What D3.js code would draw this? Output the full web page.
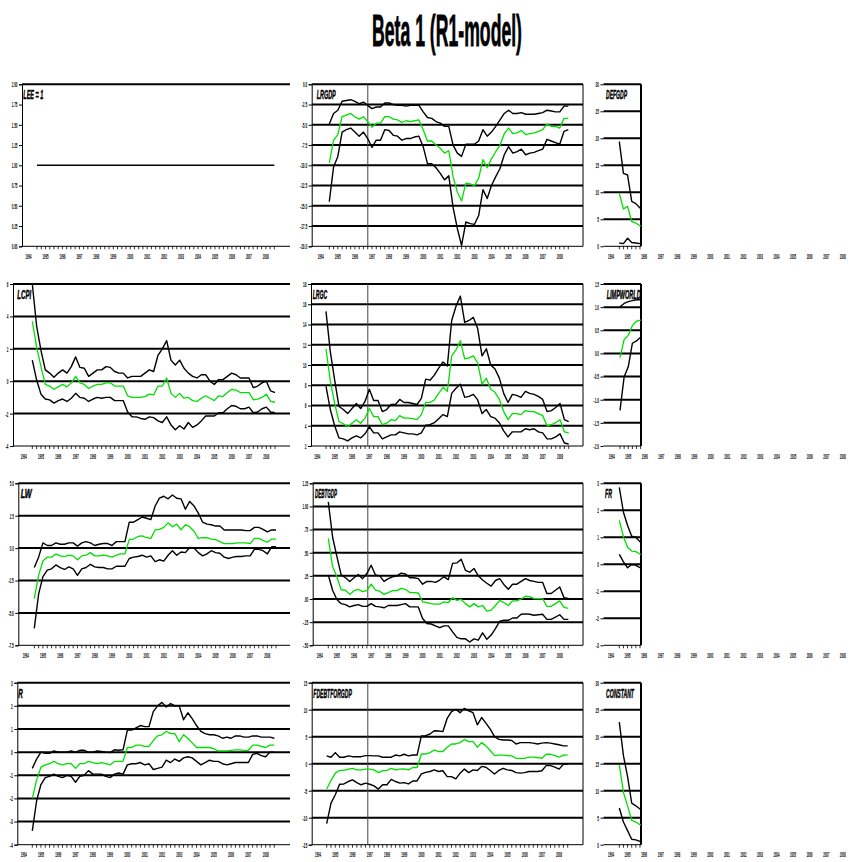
<!DOCTYPE html>
<html>
<head>
<meta charset="utf-8">
<script src="https://cdn.jsdelivr.net/npm/d3@7"></script>
<style>
  body { margin: 0; background: #fff; }
  text { font-family: "Liberation Sans Narrow", "Arial Narrow", "Liberation Sans", sans-serif; }
</style>
</head>
<body>
<div id="chart"></div>
<script>
// quarterly observations
const quarters = ["1994Q3","1994Q4",
  "1995Q1","1995Q2","1995Q3","1995Q4","1996Q1","1996Q2","1996Q3","1996Q4",
  "1997Q1","1997Q2","1997Q3","1997Q4","1998Q1","1998Q2","1998Q3","1998Q4",
  "1999Q1","1999Q2","1999Q3","1999Q4","2000Q1","2000Q2","2000Q3","2000Q4",
  "2001Q1","2001Q2","2001Q3","2001Q4","2002Q1","2002Q2","2002Q3","2002Q4",
  "2003Q1","2003Q2","2003Q3","2003Q4","2004Q1","2004Q2","2004Q3","2004Q4",
  "2005Q1","2005Q2","2005Q3","2005Q4","2006Q1","2006Q2","2006Q3","2006Q4",
  "2007Q1","2007Q2","2007Q3","2007Q4","2008Q1","2008Q2","2008Q3"];
const years = ["1994","1995","1996","1997","1998","1999","2000","2001","2002","2003","2004","2005","2006","2007","2008"];

// tick labels
const leeTicks = ["2.00","1.75","1.50","1.25","1.00","0.75","0.50","0.25","0.00"];
const lrgdpTicks = ["0.0","-2.5","-5.0","-7.5","-10.0","-12.5","-15.0","-17.5","-20.0"];
const defgdpTicks = ["30","25","20","15","10","5","0"];
const lcpiTicks = ["6","4","2","0","-2","-4"];
const lrgcTicks = ["18","16","14","12","10","8","6","4","2"];
const limpTicks = ["1.5","1.0","0.5","0.0","-0.5","-1.0","-1.5","-2.0"];
const lwTicks = ["5.0","2.5","0.0","-2.5","-5.0","-7.5"];
const debtTicks = ["1.25","1.00",".75",".50",".25",".00","-.25","-.50"];
const frTicks = ["3","2","1","0","-1","-2","-3"];
const rTicks = ["3","2","1","0","-1","-2","-3","-4"];
const fdebtTicks = ["15","10","5","0","-5","-10","-15"];
const constTicks = ["30","25","20","15","10","5","0"];

// series: upper band, estimate, lower band
const lee = [1,1,1,1,1,1,1,1,1,1,1,1,1,1,1,1,1,1,1,1,1,1,1,1,1,1,1,1,1,1,1,1,1,1,1,1,1,1,1,1,1,1,1,1,1,1,1,1,1,1,1,1,1,1,1,1,1];

const lrgdpHi = [-4.9,-3.6,-3.2,-2.1,-2.0,-1.9,-2.1,-2.4,-2.2,-2.6,-3.0,-2.8,-2.8,-2.3,-2.3,-2.5,-2.6,-2.6,-2.7,-2.6,-2.6,-2.6,-3.4,-4.1,-4.2,-4.6,-4.8,-5.2,-5.2,-7.5,-8.5,-8.9,-7.4,-7.4,-7.4,-7.0,-5.6,-6.4,-5.9,-5.2,-4.4,-3.6,-3.2,-3.6,-3.6,-3.5,-3.7,-3.7,-3.7,-3.6,-3.5,-3.2,-3.3,-3.4,-3.4,-2.7,-2.7];
const lrgdpMid = [-9.7,-6.9,-6.2,-4.0,-3.8,-3.6,-4.0,-4.3,-4.0,-4.6,-5.3,-4.8,-4.8,-4.0,-4.0,-4.3,-4.4,-4.7,-4.5,-4.6,-4.5,-4.4,-5.6,-7.0,-7.0,-7.5,-7.9,-8.5,-8.2,-11.4,-13.3,-14.4,-12.2,-12.3,-12.5,-11.6,-9.3,-10.3,-9.2,-8.3,-7.5,-6.1,-5.4,-6.1,-6.0,-5.7,-6.2,-6.1,-6.0,-5.8,-5.6,-4.9,-5.2,-5.2,-5.4,-4.2,-4.2];
const lrgdpLo = [-14.5,-10.2,-8.9,-5.9,-5.6,-5.4,-5.9,-6.4,-5.9,-6.7,-7.8,-6.9,-6.9,-5.6,-5.7,-6.3,-6.4,-6.9,-6.7,-6.7,-6.5,-6.4,-7.7,-9.8,-9.8,-10.3,-11.0,-11.8,-11.3,-15.2,-17.8,-19.9,-17.0,-17.2,-17.3,-16.2,-13.0,-14.1,-12.5,-11.4,-10.4,-8.7,-7.7,-8.5,-8.3,-8.0,-8.7,-8.5,-8.4,-8.2,-8.0,-6.8,-7.0,-7.2,-7.4,-5.8,-5.6];

const lcpiHi = [6.0,3.4,1.9,0.7,0.5,0.24,0.5,0.7,0.5,0.9,1.5,0.85,0.8,0.3,0.5,0.7,0.7,0.9,0.85,0.6,0.5,0.5,0.2,0.3,0.3,0.3,0.5,0.7,0.6,1.6,2.0,2.5,1.3,1.0,1.3,0.8,0.5,0.3,0.2,0.4,0.4,0.0,-0.2,0.1,0.1,0.3,0.5,0.4,0.2,0.2,0.2,-0.4,-0.3,-0.1,0.0,-0.6,-0.7];
const lcpiMid = [3.7,2.1,0.9,-0.2,-0.3,-0.5,-0.35,-0.2,-0.35,-0.1,0.3,-0.1,-0.2,-0.45,-0.3,-0.2,-0.2,-0.1,-0.1,-0.3,-0.3,-0.3,-0.9,-1.0,-1.0,-1.0,-0.95,-0.8,-0.85,-0.3,-0.3,0.2,-0.75,-1.0,-0.75,-1.05,-1.0,-1.2,-1.25,-1.05,-0.9,-1.05,-1.2,-0.9,-0.95,-0.7,-0.5,-0.55,-0.7,-0.7,-0.7,-1.15,-1.1,-1.0,-0.8,-1.25,-1.3];
const lcpiLo = [1.3,0.07,-0.8,-1.1,-1.15,-1.35,-1.2,-1.1,-1.25,-1.05,-0.75,-1.0,-1.05,-1.25,-1.1,-1.0,-1.05,-1.0,-1.0,-1.2,-1.2,-1.2,-1.9,-2.2,-2.2,-2.3,-2.35,-2.2,-2.25,-2.45,-2.55,-2.2,-2.7,-3.0,-2.75,-2.95,-2.55,-2.85,-2.7,-2.45,-2.15,-2.15,-2.15,-1.95,-1.95,-1.7,-1.5,-1.55,-1.7,-1.7,-1.6,-1.95,-1.9,-1.7,-1.6,-1.9,-1.95];

const lrgcHi = [15.3,11.3,8.5,5.9,5.6,5.2,5.7,6.2,5.7,6.4,7.6,6.5,6.5,5.4,5.6,6.1,6.1,6.6,6.3,6.3,6.2,6.1,6.7,8.6,8.5,9.0,9.7,10.3,9.9,14.4,15.8,16.8,14.2,14.4,14.7,13.6,10.9,11.6,10.0,9.6,8.7,7.2,6.3,7.1,7.0,6.8,7.4,7.2,7.1,6.9,6.6,5.4,5.5,5.8,6.2,4.6,4.4];
const lrgcMid = [11.6,8.4,6.2,4.4,4.2,3.9,4.25,4.6,4.25,4.75,5.7,4.9,4.9,4.1,4.25,4.6,4.5,5.0,4.75,4.75,4.7,4.6,5.1,6.3,6.3,6.55,7.2,7.8,7.4,10.9,11.5,12.4,10.6,10.7,10.9,10.2,8.1,8.7,7.6,7.3,6.6,5.4,4.6,5.2,5.2,5.1,5.5,5.4,5.4,5.2,5.0,4.0,4.1,4.3,4.6,3.4,3.3];
const lrgcLo = [7.9,5.6,4.0,2.8,2.7,2.5,2.8,3.0,2.8,3.2,3.9,3.3,3.3,2.7,2.9,3.1,3.1,3.4,3.3,3.2,3.2,3.1,3.3,4.05,4.1,4.3,4.7,5.1,4.9,7.2,7.7,8.1,6.8,6.9,7.1,6.55,5.2,5.6,4.9,4.75,4.3,3.5,2.9,3.4,3.4,3.4,3.7,3.6,3.7,3.4,3.3,2.7,2.7,2.9,3.2,2.3,2.2];

const lwHi = [-1.5,-0.7,0.4,0.2,0.2,0.4,0.3,0.3,0.4,0.4,0.15,0.4,0.5,0.4,0.2,0.3,0.35,0.35,0.2,0.5,0.5,0.5,2.0,2.0,2.2,2.4,2.3,2.2,3.25,3.85,4.0,3.8,4.1,3.85,3.8,3.0,3.6,3.25,2.7,2.0,1.85,1.8,1.7,1.7,1.4,1.4,1.4,1.4,1.4,1.35,1.35,1.6,1.6,1.45,1.25,1.4,1.4];
const lwMid = [-3.9,-2.1,-1.0,-0.7,-0.7,-0.45,-0.6,-0.65,-0.55,-0.6,-0.9,-0.6,-0.55,-0.35,-0.6,-0.6,-0.55,-0.6,-0.7,-0.55,-0.45,-0.45,0.65,0.7,0.9,0.95,0.8,0.75,1.4,1.45,1.6,1.95,1.65,1.85,1.4,1.8,1.65,1.3,0.75,0.8,0.8,0.7,0.65,0.5,0.35,0.35,0.35,0.4,0.4,0.4,0.35,0.75,0.75,0.6,0.45,0.7,0.7];
const lwLo = [-6.2,-3.55,-2.2,-1.7,-1.6,-1.3,-1.5,-1.65,-1.45,-1.6,-2.1,-1.6,-1.5,-1.25,-1.45,-1.5,-1.5,-1.6,-1.6,-1.4,-1.4,-1.4,-0.8,-0.7,-0.65,-0.55,-0.7,-0.6,-1.05,-0.9,-1.0,-0.55,-0.2,-0.55,-0.3,-0.35,0.05,0.0,-0.35,-0.6,-0.45,-0.2,-0.35,-0.4,-0.7,-0.8,-0.7,-0.65,-0.65,-0.6,-0.6,-0.1,-0.1,-0.2,-0.45,0.1,0.1];

const debtHi = [1.05,0.67,0.46,0.26,0.23,0.19,0.23,0.265,0.22,0.275,0.365,0.26,0.25,0.19,0.22,0.24,0.25,0.28,0.27,0.23,0.23,0.22,0.16,0.19,0.19,0.18,0.205,0.24,0.21,0.385,0.39,0.43,0.31,0.29,0.33,0.25,0.205,0.17,0.14,0.20,0.22,0.155,0.105,0.16,0.16,0.19,0.22,0.20,0.19,0.18,0.18,0.06,0.06,0.095,0.13,0.015,0.005];
const debtMid = [0.655,0.35,0.24,0.10,0.095,0.05,0.09,0.105,0.08,0.09,0.16,0.095,0.085,0.05,0.07,0.09,0.09,0.115,0.105,0.07,0.07,0.065,-0.03,-0.04,-0.05,-0.055,-0.055,-0.03,-0.04,0.015,-0.015,-0.005,-0.05,-0.085,-0.05,-0.085,-0.07,-0.13,-0.12,-0.07,-0.015,-0.04,-0.07,-0.02,-0.02,0.0,0.03,0.025,0.005,0.005,0.005,-0.08,-0.08,-0.05,-0.02,-0.09,-0.10];
const debtLo = [0.26,0.095,-0.005,-0.05,-0.06,-0.085,-0.07,-0.06,-0.08,-0.08,-0.05,-0.08,-0.085,-0.095,-0.07,-0.07,-0.07,-0.06,-0.05,-0.085,-0.085,-0.085,-0.21,-0.265,-0.27,-0.29,-0.31,-0.29,-0.29,-0.355,-0.415,-0.43,-0.43,-0.465,-0.43,-0.445,-0.365,-0.435,-0.39,-0.32,-0.24,-0.23,-0.23,-0.205,-0.205,-0.165,-0.16,-0.165,-0.175,-0.17,-0.165,-0.22,-0.22,-0.195,-0.17,-0.22,-0.22];

const rHi = [-0.7,-0.3,0.0,-0.05,-0.05,0.05,0.0,0.0,0.0,0.05,0.0,0.08,0.08,0.0,0.0,0.05,0.03,0.0,-0.02,0.1,0.08,0.1,0.95,0.95,1.05,1.15,1.1,1.1,1.75,2.0,2.15,1.95,2.1,2.0,2.0,1.4,1.7,1.45,1.15,0.9,0.8,0.75,0.75,0.7,0.6,0.65,0.6,0.7,0.7,0.65,0.65,0.7,0.7,0.65,0.65,0.65,0.6];
const rMid = [-2.0,-1.2,-0.65,-0.55,-0.5,-0.4,-0.5,-0.55,-0.5,-0.5,-0.7,-0.5,-0.5,-0.4,-0.45,-0.5,-0.45,-0.5,-0.55,-0.4,-0.4,-0.4,0.2,0.2,0.3,0.3,0.25,0.25,0.5,0.7,0.75,0.9,0.8,0.8,0.45,0.75,0.6,0.4,0.2,0.2,0.2,0.2,0.15,0.05,0.05,0.05,0.08,0.1,0.1,0.08,0.08,0.3,0.3,0.25,0.2,0.3,0.3];
const rLo = [-3.4,-2.1,-1.4,-1.1,-1.05,-0.95,-1.05,-1.1,-1.0,-1.05,-1.3,-1.05,-1.0,-0.8,-0.95,-0.95,-0.95,-1.05,-1.1,-0.95,-0.9,-0.95,-0.55,-0.5,-0.5,-0.45,-0.55,-0.5,-0.75,-0.7,-0.65,-0.35,-0.45,-0.3,-0.4,-0.25,-0.2,-0.25,-0.4,-0.55,-0.45,-0.35,-0.4,-0.4,-0.5,-0.55,-0.5,-0.45,-0.45,-0.45,-0.45,-0.1,-0.05,-0.15,-0.2,0.0,0.0];

const fdebtHi = [1.45,1.2,2.05,1.2,1.2,1.45,1.3,1.3,1.3,1.5,1.5,1.45,1.45,1.2,1.2,1.2,1.6,1.45,1.75,1.45,1.6,1.6,5.15,5.2,5.5,6.1,6.05,5.95,8.4,9.65,10.05,9.45,10.25,9.8,9.45,7.2,8.55,7.5,6.4,5.0,4.5,4.4,4.4,4.3,3.65,3.9,3.9,3.9,3.8,3.65,3.8,3.9,3.8,3.65,3.5,3.3,3.3];
const fdebtMid = [-4.7,-3.1,-1.75,-1.25,-1.25,-1.0,-0.85,-1.15,-1.15,-1.0,-1.0,-1.15,-1.65,-1.3,-1.25,-0.85,-1.15,-1.0,-0.95,-1.15,-0.7,-0.7,1.8,1.8,2.05,2.55,2.25,2.25,3.05,3.65,3.65,3.9,4.5,4.1,4.1,3.05,3.9,3.3,2.45,1.5,1.6,1.6,1.5,1.45,1.0,1.0,1.0,1.2,1.2,1.15,1.0,1.75,1.75,1.5,1.2,1.6,1.6];
const fdebtLo = [-11.1,-7.3,-5.75,-3.8,-3.75,-3.3,-3.0,-3.5,-3.9,-3.6,-3.8,-4.1,-4.7,-3.9,-3.9,-2.9,-3.3,-3.6,-3.5,-3.75,-3.2,-3.2,-1.9,-1.6,-1.45,-1.15,-1.45,-1.3,-2.4,-2.4,-2.8,-1.75,-1.0,-1.65,-1.15,-1.25,-0.5,-0.65,-1.25,-1.9,-1.25,-0.85,-1.15,-1.25,-1.65,-1.75,-1.65,-1.45,-1.45,-1.45,-1.3,-0.35,-0.35,-0.65,-1.0,-0.1,-0.1];

// third column: only the first quarters are visible before the frame cuts them
const defgdpHi = [19.4,13.5,13.2,8.3,7.9,7.1,6.8,6.5];
const defgdpMid = [9.8,6.9,7.4,4.6,4.3,3.8,3.7,3.6];
const defgdpLo = [0.6,0.5,1.5,0.7,0.6,0.5,0.5,0.45];
const limpHi = [1.01,1.08,1.12,1.14,1.16,1.16,1.17,1.17];
const limpMid = [-0.09,0.3,0.39,0.6,0.7,0.72,0.75,0.75];
const limpLo = [-1.23,-0.51,-0.29,0.22,0.27,0.35,0.39,0.41];
const frHi = [2.85,1.93,1.44,1.04,1.0,0.83,0.77,0.72];
const frMid = [1.63,1.02,0.63,0.49,0.47,0.38,0.33,0.3];
const frLo = [0.37,0.09,-0.13,-0.01,-0.04,-0.12,-0.16,-0.18];
const constHi = [22.7,16.5,12.6,7.7,7.2,6.6,6.3,6.0];
const constMid = [14.8,9.7,7.2,4.5,4.2,3.7,3.5,3.3];
const constLo = [6.8,4.2,2.6,1.0,0.9,0.6,0.4,0.3];

const W = 857, H = 862;
const rowTop = [84.3, 284, 483.3, 682.7], plotH = 162;
const green = "#00e000";

// layout of each panel (pixel geometry of the original EViews page)
const panels = [
  {title: "LEE = 1", tw: 20, row: 0, col: 0, left: 22, right: 290, x0: 37, x1: 274.3, tx: 23.3, ticks: leeTicks, series: [lee], grid: false},
  {title: "LRGDP", tw: 19, row: 0, col: 1, left: 311.7, right: 583, x0: 329.3, x1: 568.3, tx: 316.7, ticks: lrgdpTicks, series: [lrgdpHi, lrgdpMid, lrgdpLo]},
  {title: "DEFGDP", tw: 21, row: 0, col: 2, left: 603.5, right: 641, x0: 619.3, x1: 851, tx: 606, ticks: defgdpTicks, series: [defgdpHi, defgdpMid, defgdpLo]},
  {title: "LCPI", tw: 14, row: 1, col: 0, left: 13, right: 290, x0: 32.3, x1: 275, tx: 17.3, ticks: lcpiTicks, series: [lcpiHi, lcpiMid, lcpiLo]},
  {title: "LRGC", tw: 14.5, row: 1, col: 1, left: 311, right: 583, x0: 326, x1: 568.7, tx: 312.7, ticks: lrgcTicks, series: [lrgcHi, lrgcMid, lrgcLo]},
  {title: "LIMPWORLD", tw: 34, row: 1, col: 2, left: 603.5, right: 641, x0: 620, x1: 851, tx: 606.7, ticks: limpTicks, series: [limpHi, limpMid, limpLo]},
  {title: "LW", tw: 11, row: 2, col: 0, left: 18.3, right: 290, x0: 34.3, x1: 276, tx: 20.7, ticks: lwTicks, series: [lwHi, lwMid, lwLo]},
  {title: "DEBTGDP", tw: 22, row: 2, col: 1, left: 312.7, right: 583, x0: 328.3, x1: 568.3, tx: 315, ticks: debtTicks, series: [debtHi, debtMid, debtLo]},
  {title: "FR", tw: 7, row: 2, col: 2, left: 603.5, right: 641, x0: 619.3, x1: 851, tx: 605, ticks: frTicks, series: [frHi, frMid, frLo]},
  {title: "R", tw: 4.5, row: 3, col: 0, left: 17.3, right: 290, x0: 32.3, x1: 274.3, tx: 18.3, ticks: rTicks, series: [rHi, rMid, rLo]},
  {title: "FDEBTFORGDP", tw: 38.5, row: 3, col: 1, left: 311.7, right: 583, x0: 326.7, x1: 567.7, tx: 313.3, ticks: fdebtTicks, series: [fdebtHi, fdebtMid, fdebtLo]},
  {title: "CONSTANT", tw: 28, row: 3, col: 2, left: 603.5, right: 641, x0: 619.3, x1: 851, tx: 606, ticks: constTicks, series: [constHi, constMid, constLo]}
];

const qdate = q => +q.slice(0, 4) + (+q.slice(5) - 1) / 4;

// very condensed tiny labels, as on the original
const labelWidth = s => {
  let w = 0;
  for (const c of s) w += c === "." ? 0.7 : c === "-" ? 1.3 : 1.7;
  return w;
};

const svg = d3.select("#chart").append("svg")
  .attr("width", W).attr("height", H)
  .style("display", "block");
svg.append("rect").attr("width", W).attr("height", H).attr("fill", "#fff");

svg.append("text")
  .attr("x", 447).attr("y", 46)
  .attr("text-anchor", "middle")
  .attr("font-size", 45).attr("font-weight", "bold")
  .attr("stroke", "#000").attr("stroke-width", 0.8)
  .attr("textLength", 150).attr("lengthAdjust", "spacingAndGlyphs")
  .text("Beta 1 (R1-model)");

panels.forEach((p, k) => {
  const top = rowTop[p.row], bottom = top + plotH;
  const vals = p.ticks.map(t => parseFloat(t));
  const y = d3.scaleLinear().domain(d3.extent(vals)).range([bottom, top]);
  const x = d3.scaleLinear().domain([1994.5, 2008.5]).range([p.x0, p.x1]);
  const g = svg.append("g");

  g.append("clipPath").attr("id", "clip" + k)
    .append("rect")
    .attr("x", p.left).attr("y", top - 1)
    .attr("width", p.right - p.left).attr("height", plotH + 2);

  // grid lines (the top border is the first one)
  const gridVals = p.grid === false ? [vals[0]] : vals.slice(0, -1);
  g.selectAll(".grid").data(gridVals).enter().append("line")
    .attr("x1", p.left).attr("x2", p.right)
    .attr("y1", d => y(d)).attr("y2", d => y(d))
    .attr("stroke", "#000").attr("stroke-width", 2);

  // y axis ticks and labels
  const yAxis = g.append("g")
    .attr("transform", `translate(${p.left},0)`)
    .call(d3.axisLeft(y).tickValues(vals).tickFormat((d, i) => p.ticks[i]).tickSize(3).tickPadding(1.5));
  yAxis.select(".domain").attr("stroke", p.col === 2 ? "none" : "#000").attr("stroke-width", 1);
  yAxis.selectAll("text")
    .attr("font-size", 7.5).attr("font-weight", "bold").attr("fill", "#000")
    .attr("textLength", d => labelWidth(p.ticks[vals.indexOf(d)]))
    .attr("lengthAdjust", "spacingAndGlyphs");

  // bottom axis line and quarter ticks
  g.append("line")
    .attr("x1", p.left).attr("x2", p.right)
    .attr("y1", bottom).attr("y2", bottom)
    .attr("stroke", "#000").attr("stroke-width", 1);
  const qt = quarters.map(qdate).filter(t => x(t) >= p.left && x(t) <= p.right + 0.5);
  g.selectAll(".qt").data(qt).enter().append("line")
    .attr("x1", d => x(d)).attr("x2", d => x(d))
    .attr("y1", bottom).attr("y2", bottom + 3)
    .attr("stroke", "#000").attr("stroke-width", 0.8);

  g.selectAll(".yr").data(years).enter().append("text")
    .attr("x", d => x(+d)).attr("y", bottom + 12.5)
    .attr("text-anchor", "middle")
    .attr("font-size", 7.5).attr("font-weight", "bold")
    .attr("textLength", 6).attr("lengthAdjust", "spacingAndGlyphs")
    .text(d => d);

  // frame pieces
  if (p.col === 1) {
    g.append("line").attr("x1", p.right).attr("x2", p.right)
      .attr("y1", top).attr("y2", bottom)
      .attr("stroke", "#000").attr("stroke-width", 1);
    g.append("line").attr("x1", 367.8).attr("x2", 367.8)
      .attr("y1", top).attr("y2", bottom)
      .attr("stroke", "#444").attr("stroke-width", 1);
  }
  if (p.col === 2) {
    g.append("line").attr("x1", p.right).attr("x2", p.right)
      .attr("y1", top).attr("y2", bottom)
      .attr("stroke", "#000").attr("stroke-width", 2);
  }

  // the lines
  const line = d3.line()
    .x((d, i) => x(qdate(quarters[i])))
    .y(d => y(d));
  const plot = g.append("g").attr("clip-path", `url(#clip${k})`);
  const order = p.series.length === 3 ? [0, 2, 1] : [0];
  order.forEach(j => {
    plot.append("path")
      .datum(p.series[j])
      .attr("fill", "none")
      .attr("stroke", j === 1 ? green : "#000")
      .attr("stroke-width", j === 1 ? 1.3 : 1.4)
      .attr("stroke-linejoin", "round")
      .attr("d", line);
  });

  g.append("text")
    .attr("x", p.tx).attr("y", top + 15)
    .attr("font-size", 13).attr("font-weight", "bold").attr("font-style", "italic")
    .attr("stroke", "#000").attr("stroke-width", 0.5)
    .attr("textLength", p.tw).attr("lengthAdjust", "spacingAndGlyphs")
    .text(p.title);
});
</script>
</body>
</html>
